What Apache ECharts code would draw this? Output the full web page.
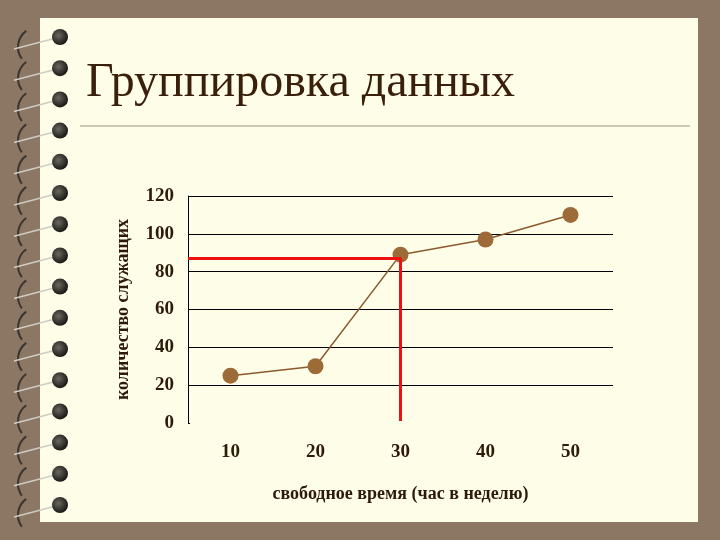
<!DOCTYPE html>
<html><head><meta charset="utf-8">
<script src="https://cdn.jsdelivr.net/npm/echarts@6/dist/echarts.min.js"></script>
<style>html,body{margin:0;padding:0;background:#8b7763}#c{width:720px;height:540px}</style>
</head><body><div id="c"></div>
<script>
var categories = ['10','20','30','40','50'];
var employees = [25, 30, 89, 97, 110];
var guideX = [5, 30, 30];
var guideY = [87, 87, 1];

var chart = echarts.init(document.getElementById('c'));
var rings = [];
for (var i = 0; i < 16; i++) {
  var cy = 37 + i * 31.2;
  rings.push({type:'arc', shape:{cx:38, cy:cy+10, r:20, startAngle:Math.PI*0.8, endAngle:Math.PI*1.3}, style:{stroke:'#3a3530', lineWidth:2, fill:null}, z:10});
  rings.push({type:'line', shape:{x1:14, y1:cy+12, x2:56, y2:cy+1}, style:{stroke:'#d0ccc4', lineWidth:1.5}, z:10});
  rings.push({type:'circle', shape:{cx:60, cy:cy, r:8}, style:{fill:{type:'radial', x:0.4, y:0.4, r:0.6, colorStops:[{offset:0,color:'#6a685f'},{offset:1,color:'#1a1916'}]}}, z:11});
}
var tickFont = {fontFamily:'Liberation Serif', fontWeight:'bold', fontSize:19, color:'#2e1a08'};
chart.setOption({
  animation:false,
  graphic:[
    {type:'rect', shape:{x:40, y:18, width:658, height:504}, style:{fill:'#fefde8'}, z:-10},
    {type:'text', left:86, top:59, style:{text:'Группировка данных', font:'48px "Liberation Serif"', fill:'#3a1f0a'}},
    {type:'line', shape:{x1:80, y1:126, x2:690, y2:126}, style:{stroke:'#9c9282', lineWidth:1}},
    {type:'rect', shape:{x:190, y:422, width:425, height:3}, style:{fill:'#fefde8'}, z:50}
  ].concat(rings),
  grid:{left:188, top:196, width:425, height:227},
  xAxis:[{type:'category', data:categories, boundaryGap:true,
    axisLine:{show:false}, axisTick:{show:false},
    axisLabel:Object.assign({margin:20}, tickFont),
    name:'свободное время (час в неделю)', nameLocation:'middle', nameGap:62,
    nameTextStyle:{fontFamily:'Liberation Serif', fontWeight:'bold', fontSize:18, color:'#2e1a08'}},
    {type:'value', min:5, max:55, show:false}],
  yAxis:{type:'value', min:0, max:120, interval:20,
    axisLine:{show:true, lineStyle:{color:'#000'}}, axisTick:{show:false},
    splitLine:{lineStyle:{color:'#000', width:1}},
    axisLabel:Object.assign({margin:14}, tickFont),
    name:'количество служащих', nameLocation:'middle', nameGap:56,
    nameTextStyle:{fontFamily:'Liberation Serif', fontWeight:'bold', fontSize:18, color:'#2e1a08'}},
  series:[
    {type:'line', data:employees, symbol:'circle', symbolSize:16,
      lineStyle:{color:'#8a5a2e', width:1.5}, itemStyle:{color:'#9c6b38'}, z:3},
    {type:'line', xAxisIndex:1, data:guideX.map(function(x,i){return [x,guideY[i]];}),
      symbol:'none', lineStyle:{color:'#ee1111', width:3}, z:4}
  ]
});
</script></body></html>
